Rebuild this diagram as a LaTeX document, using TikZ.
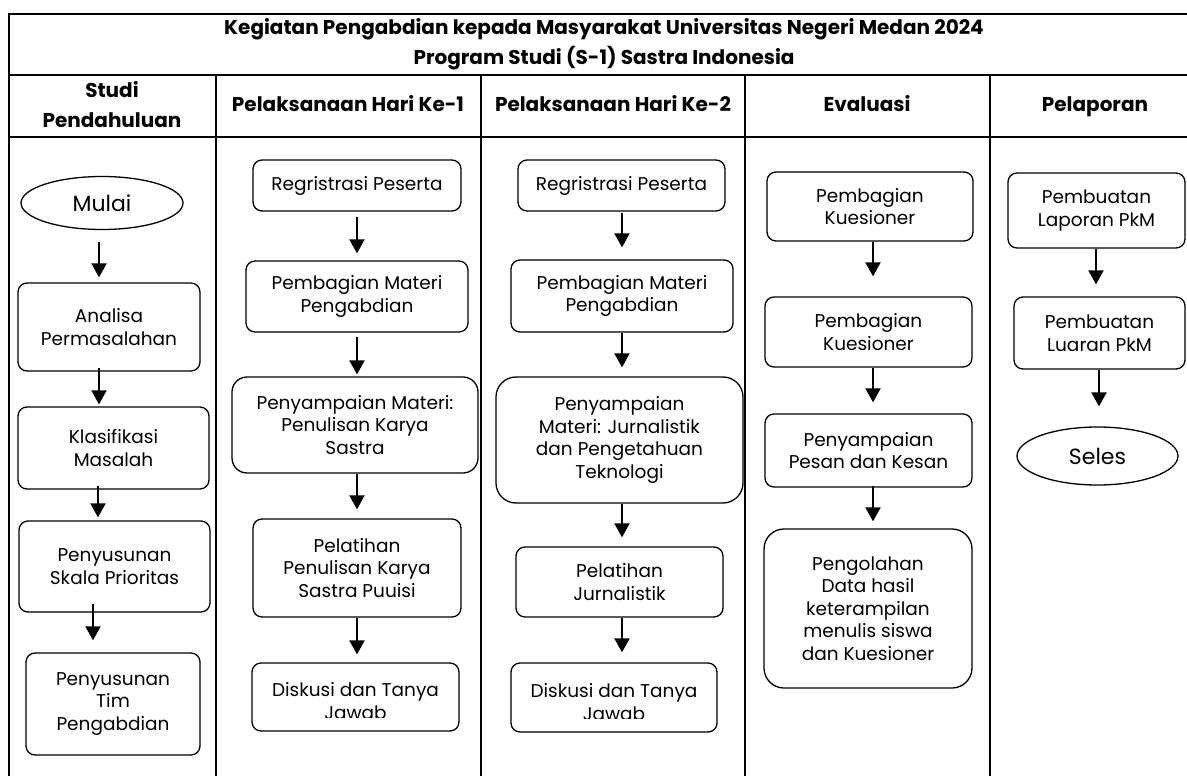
\documentclass[tikz,border=0pt]{standalone}
\usepackage{fontspec}
\setmainfont{Poppins}
\usetikzlibrary{shapes.geometric,arrows.meta}

\tikzset{
  procbox/.style={draw, rounded corners=9pt, line width=1.3pt, align=center, inner sep=0pt,
    font=\fontsize{18.5}{22.5}\selectfont},
  oval/.style={draw, ellipse, line width=1.3pt, inner sep=0pt, font=\fontsize{22}{26}\selectfont},
  arr/.style={line width=2pt, -{Triangle[width=15pt,length=14pt]}},
  colhead/.style={align=center, font=\bfseries\fontsize{20}{30}\selectfont},
  tabline/.style={line width=1.6pt}
}

\begin{document}
\begin{tikzpicture}[x=1pt,y=-1pt]
  \useasboundingbox (0,0) rectangle (1187,776);

  % table
  \draw[tabline] (9,776) -- (9,14) -- (1187,14);
  \draw[tabline] (9,75) -- (1187,75);
  \draw[tabline] (9,137) -- (1187,137);
  \foreach \x in {216,481,745,990}
    \draw[tabline] (\x,75) -- (\x,776);

  \node[colhead] (judul) at (604,44) {Kegiatan Pengabdian kepada Masyarakat Universitas Negeri Medan 2024\\Program Studi (S-1) Sastra Indonesia};
  \node[colhead] (hStudi) at (112,105) {Studi\\Pendahuluan};
  \node[colhead, anchor=base] (hHari1) at (348,112) {Pelaksanaan Hari Ke-1};
  \node[colhead, anchor=base] (hHari2) at (613,112) {Pelaksanaan Hari Ke-2};
  \node[colhead, anchor=base] (hEval) at (867,112) {Evaluasi};
  \node[colhead, anchor=base] (hLapor) at (1095,112) {Pelaporan};

  % studi pendahuluan
  \node[oval, minimum width=162, minimum height=53] (mulai) at (102,203) {Mulai};
  \node[procbox, minimum width=182, minimum height=88] (analisa) at (109,327) {Analisa\\Permasalahan};
  \node[procbox, minimum width=191, minimum height=82] (klasifikasi) at (113.5,448) {Klasifikasi\\Masalah};
  \node[procbox, minimum width=191, minimum height=91] (skala) at (114.5,566.5) {Penyusunan\\Skala Prioritas};
  \node[procbox, minimum width=174, minimum height=102] (tim) at (113,704) {Penyusunan\\Tim\\Pengabdian};

  \draw[arr] ([xshift=-3pt,yshift=-12pt]mulai.south) -- ([xshift=-10pt,yshift=5pt]analisa.north);
  \draw[arr] ([xshift=-10pt,yshift=4pt]analisa.south) -- ([xshift=-14.5pt,yshift=2pt]klasifikasi.north);
  \draw[arr] ([xshift=-15.5pt,yshift=4pt]klasifikasi.south) -- ([xshift=-16.5pt,yshift=3pt]skala.north);
  \draw[arr] ([xshift=-21.5pt,yshift=9pt]skala.south) -- ([xshift=-20pt,yshift=12pt]tim.north);

  % hari ke-1
  \node[procbox, minimum width=208, minimum height=51] (regA) at (357,185.5) {Regristrasi Peserta};
  \node[procbox, minimum width=222, minimum height=71] (materiA) at (357,296.5) {Pembagian Materi\\Pengabdian};
  \node[procbox, rounded corners=15pt, minimum width=246, minimum height=96] (sampaiA) at (355,425) {Penyampaian Materi:\\Penulisan Karya\\Sastra};
  \node[procbox, minimum width=208, minimum height=98] (latihA) at (357,568) {Pelatihan\\Penulisan Karya\\Sastra Puuisi};
  \node[procbox, minimum width=207, minimum height=68] (diskusiA) at (355.5,697) {};
  \begin{scope}
    \clip (252,663) rectangle (459,717);
    \node[align=center, font=\fontsize{18.5}{22.5}\selectfont] (tanyaA) at (355.5,701) {Diskusi dan Tanya\\Jawab};
  \end{scope}

  \draw[arr] ([yshift=-5pt]regA.south) -- ([yshift=7pt]materiA.north);
  \draw[arr] ([yshift=-4pt]materiA.south) -- ([xshift=2pt,yshift=2pt]sampaiA.north);
  \draw[arr] ([xshift=2pt]sampaiA.south) -- ([yshift=9pt]latihA.north);
  \draw[arr] (latihA.south) -- ([xshift=1.5pt,yshift=8pt]diskusiA.north);

  % hari ke-2
  \node[procbox, minimum width=207, minimum height=51] (regB) at (621.5,185.5) {Regristrasi Peserta};
  \node[procbox, minimum width=222, minimum height=72] (materiB) at (622,296) {Pembagian Materi\\Pengabdian};
  \node[procbox, rounded corners=20pt, minimum width=247, minimum height=126] (sampaiB) at (619.5,440) {Penyampaian\\Materi: Jurnalistik\\dan Pengetahuan\\Teknologi};
  \node[procbox, minimum width=207, minimum height=70] (latihB) at (619.5,582) {Pelatihan\\Jurnalistik};
  \node[procbox, minimum width=206, minimum height=69] (diskusiB) at (614,697.5) {};
  \begin{scope}
    \clip (511,663) rectangle (717,718);
    \node[align=center, font=\fontsize{18.5}{22.5}\selectfont] (tanyaB) at (614,702) {Diskusi dan Tanya\\Jawab};
  \end{scope}

  \draw[arr] ([xshift=0.5pt,yshift=-1pt]regB.south) -- ([yshift=12pt]materiB.north);
  \draw[arr] (materiB.south) -- ([xshift=2.5pt,yshift=9pt]sampaiB.north);
  \draw[arr] ([xshift=2.5pt]sampaiB.south) -- ([xshift=2.5pt,yshift=9pt]latihB.north);
  \draw[arr] ([xshift=2.5pt]latihB.south) -- ([xshift=8pt,yshift=10pt]diskusiB.north);

  % evaluasi
  \node[procbox, minimum width=206, minimum height=69] (kuesA) at (870,206.5) {Pembagian\\Kuesioner};
  \node[procbox, minimum width=207, minimum height=70] (kuesB) at (868.5,332) {Pembagian\\Kuesioner};
  \node[procbox, minimum width=207, minimum height=73] (kesan) at (868.5,450.5) {Penyampaian\\Pesan dan Kesan};
  \node[procbox, rounded corners=20pt, minimum width=208, minimum height=159] (olah) at (868,608.5) {Pengolahan\\Data hasil\\keterampilan\\menulis siswa\\dan Kuesioner};

  \draw[arr] ([xshift=3pt]kuesA.south) -- ([xshift=4.5pt,yshift=20pt]kuesB.north);
  \draw[arr] ([xshift=4.5pt]kuesB.south) -- ([xshift=4.5pt,yshift=11pt]kesan.north);
  \draw[arr] ([xshift=4.5pt,yshift=2pt]kesan.south) -- ([xshift=5pt,yshift=7pt]olah.north);

  % pelaporan
  \node[procbox, minimum width=177, minimum height=75] (laporan) at (1096.5,210.5) {Pembuatan\\Laporan PkM};
  \node[procbox, minimum width=171, minimum height=72] (luaran) at (1099.5,333) {Pembuatan\\Luaran PkM};
  \node[oval, minimum width=161, minimum height=58] (seles) at (1097.5,456) {Seles};

  \draw[arr] ([xshift=-0.5pt]laporan.south) -- ([xshift=-3.5pt,yshift=12pt]luaran.north);
  \draw[arr] ([xshift=-0.5pt]luaran.south) -- ([xshift=1.5pt,yshift=20pt]seles.north);
\end{tikzpicture}
\end{document}
